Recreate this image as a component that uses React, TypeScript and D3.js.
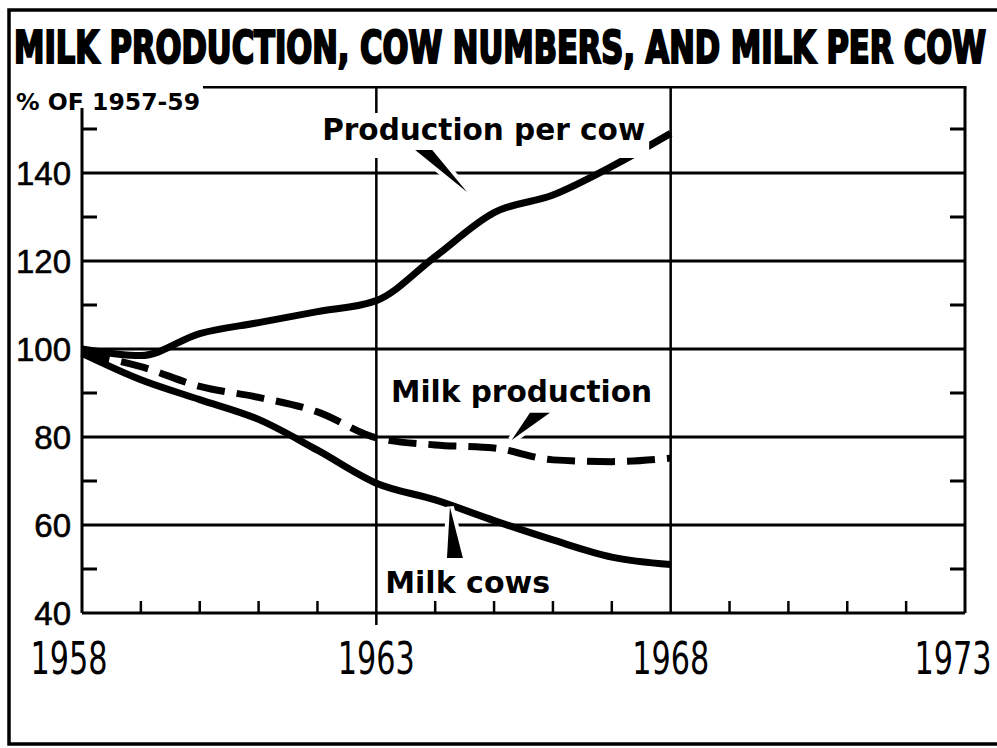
import { useEffect, useRef } from 'react'
import * as d3 from 'd3'

const years = [1958, 1959, 1960, 1961, 1962, 1963, 1964, 1965, 1966, 1967, 1968]
const perCow = [100, 98.5, 103.5, 106, 108.5, 111, 121, 131, 135, 141.5, 149]
const milkProduction = [99, 96, 91.5, 89, 85.7, 79.8, 78.2, 77.5, 74.8, 74.4, 75.2]
const milkCows = [99, 93, 88.5, 84, 77, 69.5, 65.7, 61, 56.6, 52.7, 51]

const yGrid = [60, 80, 100, 120, 140]
const yLabels = [40, 60, 80, 100, 120, 140]
const yMinor = [50, 70, 90, 110, 130, 150]
const xLabels = [1958, 1963, 1968, 1973]
const xVertical = [1963, 1968]

// annotations in data units: label position + pointer wedge
const notes: { text: string; x: number; y: number; len: number; wedge: [number, number][] }[] = [
  { text: 'Production per cow', x: 1962.08, y: 147.5, len: 323, wedge: [[1963.66, 145.2], [1963.95, 145.2], [1964.54, 135.7]] },
  { text: 'Milk production', x: 1963.25, y: 88, len: 261, wedge: [[1965.61, 85.5], [1965.95, 85.5], [1965.3, 79.3]] },
  { text: 'Milk cows', x: 1963.15, y: 44.5, len: 165, wedge: [[1964.25, 64.1], [1964.2, 52.5], [1964.47, 52.5]] },
]

export default function App() {
  const svgRef = useRef<SVGSVGElement>(null)

  useEffect(() => {
    if (!svgRef.current) return
    const svg = d3.select(svgRef.current)
    svg.selectAll('*').remove()

    const x = d3.scaleLinear().domain([1958, 1973]).range([82, 965])
    const y = d3.scaleLinear().domain([40, 140]).range([613, 173])

    svg.append('rect').attr('width', 997).attr('height', 748).style('fill', 'white')

    // outer border
    svg.append('rect')
      .attr('x', 9).attr('y', 10).attr('width', 1000).attr('height', 734)
      .style('fill', 'none').style('stroke', 'black').style('stroke-width', 3.5)

    // title
    svg.append('text')
      .attr('x', 14).attr('y', 63)
      .attr('textLength', 972).attr('lengthAdjust', 'spacingAndGlyphs')
      .style('font-family', '"Liberation Sans Narrow", "DejaVu Sans Condensed", sans-serif')
      .style('font-weight', 'bold').style('font-size', '44px')
      .style('stroke', 'black').style('stroke-width', 2.2)
      .text('MILK PRODUCTION, COW NUMBERS, AND MILK PER COW')

    svg.append('text')
      .attr('x', 16).attr('y', 110)
      .attr('textLength', 184).attr('lengthAdjust', 'spacingAndGlyphs')
      .style('font-family', '"DejaVu Sans", sans-serif')
      .style('font-weight', 'bold').style('font-size', '23px')
      .text('% OF 1957-59')

    const g = svg.append('g')
    const line = (x1: number, y1: number, x2: number, y2: number, w: number) =>
      g.append('line').attr('x1', x1).attr('y1', y1).attr('x2', x2).attr('y2', y2)
        .style('stroke', 'black').style('stroke-width', w)

    // frame
    const topY = y(159.5)
    line(x(1958), y(154.8), x(1958), y(40), 3)
    line(203, topY, x(1973) + 1.5, topY, 2.5)
    line(x(1973), topY, x(1973), y(40), 3)
    line(x(1958), y(40), x(1973), y(40), 3)

    // gridlines
    yGrid.forEach(v => line(x(1958), y(v), x(1973), y(v), 3))
    xVertical.forEach(v => line(x(v), topY, x(v), v === 1963 ? y(37.3) : y(40), 2.5))

    // minor ticks
    yMinor.forEach(v => {
      line(x(1958), y(v), x(1958) + 15, y(v), 3)
      line(x(1973) - 15, y(v), x(1973), y(v), 3)
    })
    d3.range(1959, 1973).filter(v => !xVertical.includes(v))
      .forEach(v => line(x(v), y(40), x(v), y(40) - 12, 2.5))

    // y labels
    g.selectAll('.ylab').data(yLabels).enter().append('text')
      .attr('x', 71).attr('y', d => y(d) + 12)
      .attr('text-anchor', 'end')
      .style('font-family', '"Liberation Sans", sans-serif')
      .style('font-size', '33px')
      .style('stroke', 'black').style('stroke-width', 0.6)
      .text(d => d)

    // x labels
    const last = xLabels.length - 1
    g.selectAll('.xlab').data(xLabels).enter().append('text')
      .attr('x', (d, i) => x(d) - (i === 0 ? 13 : i === last ? 12 : 0)).attr('y', 674)
      .attr('text-anchor', 'middle')
      .attr('textLength', 77).attr('lengthAdjust', 'spacingAndGlyphs')
      .style('font-family', '"Liberation Sans Narrow", "DejaVu Sans Condensed", sans-serif')
      .style('font-size', '44px')
      .text(d => d)

    // series
    const path = d3.line<number>()
      .x((_, i) => x(years[i]))
      .y(d => y(d))
      .curve(d3.curveMonotoneX)

    g.append('path').attr('d', path(milkCows))
      .style('fill', 'none').style('stroke', 'black').style('stroke-width', 7)
    g.append('path').attr('d', path(milkProduction))
      .style('fill', 'none').style('stroke', 'black').style('stroke-width', 7)
      .style('stroke-dasharray', '28,12')
    g.append('path').attr('d', path(perCow))
      .style('fill', 'none').style('stroke', 'black').style('stroke-width', 7)

    // annotations
    notes.forEach((n, i) => {
      if (i === 0) {
        g.append('rect').attr('x', x(n.x) - 4).attr('y', y(n.y) - 27)
          .attr('width', n.len + 8).attr('height', 45).style('fill', 'white')
      }
      g.append('text')
        .attr('x', x(n.x)).attr('y', y(n.y))
        .attr('textLength', n.len).attr('lengthAdjust', 'spacingAndGlyphs')
        .style('font-family', '"DejaVu Sans", sans-serif')
        .style('font-weight', 'bold').style('font-size', '30px')
        .text(n.text)
      g.append('path')
        .attr('d', 'M' + n.wedge.map(p => `${x(p[0])},${y(p[1])}`).join('L') + 'Z')
        .style('fill', 'black').style('stroke', 'white').style('stroke-width', 8)
        .style('paint-order', 'stroke')
    })
  }, [])

  return (
    <svg ref={svgRef} width={997} height={748}
      style={{ position: 'absolute', left: 0, top: 0, display: 'block' }} />
  )
}
